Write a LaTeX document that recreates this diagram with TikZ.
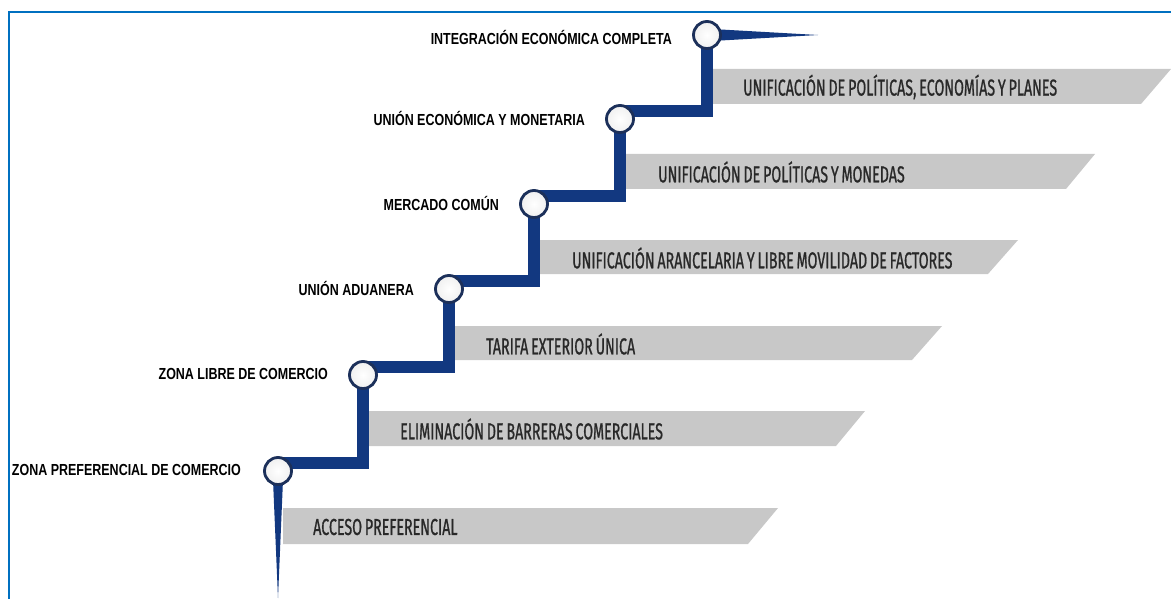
\documentclass[tikz,border=0pt]{standalone}
\usepackage{fontspec}
\setmainfont{Liberation Sans}
\newfontfamily\bandfont[FakeStretch=0.62,WordSpace=0.75,FakeBold=0.8]{Fira Sans}
\newfontfamily\labfont[FakeStretch=0.78]{Liberation Sans}
\definecolor{frameblue}{RGB}{0,112,192}
\definecolor{stairblue}{RGB}{18,56,128}
\definecolor{ringblue}{RGB}{28,48,90}
\definecolor{bandgray}{RGB}{200,200,200}
\definecolor{bandtext}{RGB}{40,40,40}
\tikzset{
  stair/.style={draw=stairblue,line width=11.5pt,line join=miter,line cap=butt},
  ring/.style={circle,draw=ringblue,line width=2.8pt,inner sep=0pt,minimum size=27pt,
    inner color=white,outer color=gray!12},
  stagelabel/.style={anchor=east,inner sep=0pt,font=\labfont\bfseries\fontsize{16}{18}\selectfont,text=black},
  bandlabel/.style={anchor=west,inner sep=0pt,font=\bandfont\fontsize{23}{26}\selectfont,text=bandtext},
  band/.style={fill=bandgray,draw=none}
}
\begin{document}
\begin{tikzpicture}[x=1pt,y=-1pt]
\useasboundingbox (0,0) rectangle (1171,599);
\fill[white] (0,0) rectangle (1171,599);
% frame
\draw[frameblue,line width=2.5pt] (9,599) -- (9,12) -- (1171,12);
% centres
\coordinate (c1) at (278,471);
\coordinate (c2) at (363,375);
\coordinate (c3) at (449,289);
\coordinate (c4) at (534,204);
\coordinate (c5) at (620,119);
\coordinate (c6) at (707,35);
% bands
\fill[band] (283,508) -- (778,508) -- (748,544) -- (283,544) -- cycle;
\fill[band] (368,411) -- (865,411) -- (836,446) -- (368,446) -- cycle;
\fill[band] (455,326) -- (942,326) -- (912,360) -- (455,360) -- cycle;
\fill[band] (540,240) -- (1018,240) -- (988,274) -- (540,274) -- cycle;
\fill[band] (626,154) -- (1095,154) -- (1066,189) -- (626,189) -- cycle;
\fill[band] (713,69) -- (1171,69) -- (1141,104) -- (713,104) -- cycle;
\node[bandlabel] (b1) at (313,527) {ACCESO PREFERENCIAL};
\node[bandlabel] (b2) at (400,429) {ELIMINACIÓN DE BARRERAS COMERCIALES};
\node[bandlabel] (b3) at (486,344) {TARIFA EXTERIOR ÚNICA};
\node[bandlabel] (b4) at (572,258) {UNIFICACIÓN ARANCELARIA Y LIBRE MOVILIDAD DE FACTORES};
\node[bandlabel] (b5) at (658,172) {UNIFICACIÓN DE POLÍTICAS Y MONEDAS};
\node[bandlabel] (b6) at (743,87) {UNIFICACIÓN DE POLÍTICAS, ECONOMÍAS Y PLANES};
% spikes
\fill[stairblue] (273,480) -- (283,480) -- (278,598) -- cycle;
\fill[stairblue] (712,29) -- (712,41) -- (818,35) -- cycle;
% stairs
\draw[stair] ([yshift=8pt]c1) -| (c2);
\draw[stair] ([yshift=8pt]c2) -| (c3);
\draw[stair] ([yshift=8pt]c3) -| (c4);
\draw[stair] ([yshift=8pt]c4) -| (c5);
\draw[stair] ([yshift=8pt]c5) -| (c6);
% rings
\foreach \i in {1,...,6} \node[ring] (r\i) at (c\i) {};
% labels
\node[stagelabel] (l1) at ([xshift=-37pt,yshift=1pt]c1) {ZONA PREFERENCIAL DE COMERCIO};
\node[stagelabel] (l2) at ([xshift=-35pt,yshift=1pt]c2) {ZONA LIBRE DE COMERCIO};
\node[stagelabel] (l3) at ([xshift=-35pt,yshift=1pt]c3) {UNIÓN ADUANERA};
\node[stagelabel] (l4) at ([xshift=-35pt,yshift=1pt]c4) {MERCADO COMÚN};
\node[stagelabel] (l5) at ([xshift=-35pt,yshift=1pt]c5) {UNIÓN ECONÓMICA Y MONETARIA};
\node[stagelabel] (l6) at ([xshift=-35pt,yshift=-2pt]c6) {INTEGRACIÓN ECONÓMICA COMPLETA};
\end{tikzpicture}
\end{document}
